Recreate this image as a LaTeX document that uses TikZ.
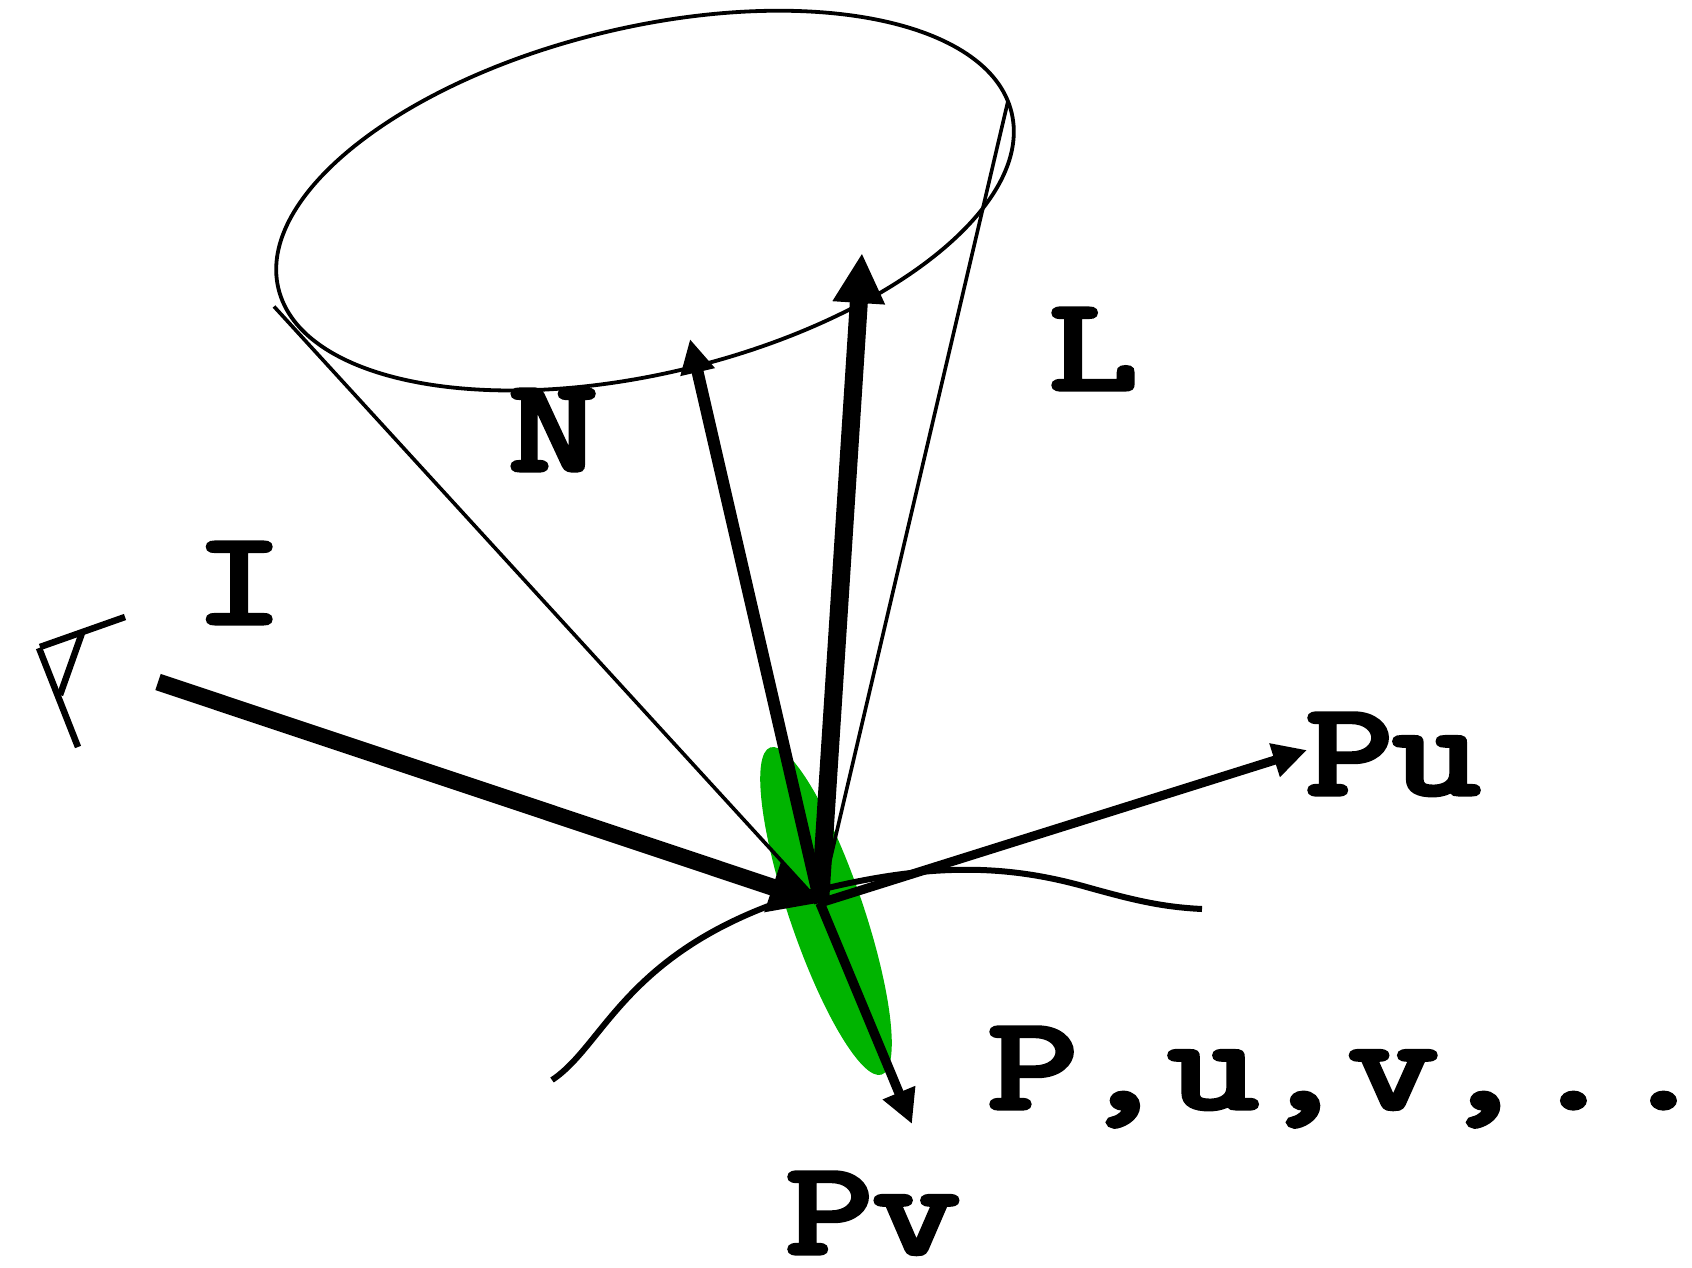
\documentclass[tikz,border=0pt]{standalone}
\usepackage{graphicx}
\usepackage{fontspec}
\newfontfamily\lblfont[FakeBold=4]{Latin Modern Mono}
\usetikzlibrary{arrows.meta,shapes.geometric}
\definecolor{lobe}{RGB}{0,180,0}
\tikzset{
  lbl/.style={inner sep=0pt,outer sep=0pt,anchor=base west,font=\fontsize{131}{131}\lblfont\selectfont},
  thin line/.style={draw=black,line width=3.6pt},
  eye line/.style={draw=black,line width=6.5pt},
  curve line/.style={draw=black,line width=6pt},
  small arrow/.style={draw=black,-{Triangle[length=34pt,width=33pt]}},
  big arrow/.style={draw=black,-{Triangle[length=50pt,width=49pt]}}
}
\newcommand{\widen}[2][1.31]{\scalebox{#1}[1]{#2}}
\begin{document}
\begin{tikzpicture}[x=1pt,y=-1pt]
\useasboundingbox (0,0) rectangle (1692,1267);
% shapes
\node[ellipse,fill=lobe,rotate=18.8,minimum width=74pt,minimum height=345.6pt,inner sep=0pt] (lobe) at (826,911) {};
\node[ellipse,draw=black,line width=3.8pt,rotate=13.5,minimum width=754pt,minimum height=346pt,inner sep=0pt] (cone) at (645,200.6) {};
% reference points
\coordinate (P) at (820,903);
\coordinate (coneL) at (274,306.5);
\coordinate (coneR) at (1008,101);
\coordinate (tipN) at (690,339);
\coordinate (tipL) at (862,253);
\coordinate (tipU) at (1307,750);
\coordinate (tipV) at (912,1124);
\coordinate (inc) at (158,682);
\coordinate (eyeA) at (40,647);
\coordinate (eyeB) at (125,617);
\coordinate (eyeC) at (39,648);
\coordinate (eyeD) at (78,747);
\coordinate (eyeE) at (82,633);
\coordinate (eyeF) at (60,695);
\coordinate (surfA) at (552,1080);
\coordinate (surfB) at (800,895);
\coordinate (surfC) at (1090,888);
\coordinate (surfD) at (1202,909);
% surface
\draw[curve line] (surfA) .. controls (605,1045) and (625,950) .. (surfB)
  .. controls (930,860) and (1010,865) .. (surfC)
  .. controls (1130,899) and (1160,907) .. (surfD);
% cone lines
\draw[thin line] (coneL) -- (P);
\draw[thin line] (coneR) -- (P);
% arrows
\draw[small arrow,line width=12pt] (P) -- (tipN);
\draw[big arrow,line width=18pt] (P) -- (tipL);
\draw[small arrow,line width=9pt] (P) -- (tipU);
\draw[small arrow,line width=9.5pt] (P) -- (tipV);
\draw[big arrow,line width=17pt] (inc) -- (P);
% eye
\draw[eye line] (eyeA) -- (eyeB);
\draw[eye line] (eyeC) -- (eyeD);
\draw[eye line] (eyeE) -- (eyeF);
% labels
\node[lbl] (labN) at (509,470) {\widen{N}};
\node[lbl] (labL) at (1049,389) {\widen{L}};
\node[lbl] (labI) at (195,623) {\widen{I}};
\node[lbl] (labPu) at (1306,794) {\widen[1.29]{Pu}};
\node[lbl] (labPv) at (786,1253) {\widen[1.29]{Pv}};
\node[lbl] (labList) at (988,1108) {\widen[1.335]{P,u,v,..}};
\end{tikzpicture}
\end{document}
